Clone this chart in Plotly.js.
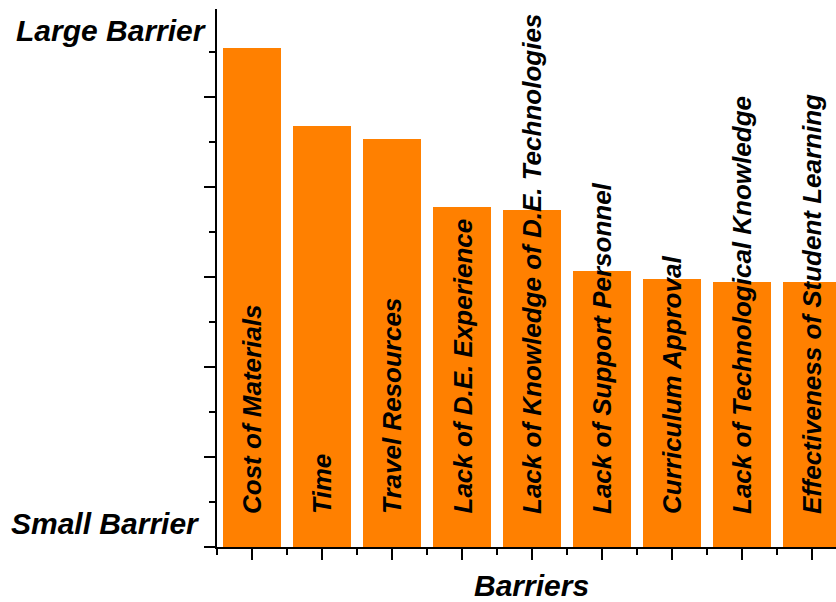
<!DOCTYPE html>
<html>
<head>
<meta charset="utf-8">
<script src="https://cdn.plot.ly/plotly-3.0.1.min.js"></script>
<style>html,body{margin:0;padding:0;overflow:hidden;background:#fff;}</style>
</head>
<body>
<div id="chart" style="width:836px;height:602px;"></div>
<script>
const categories = [
  "Cost of Materials",
  "Time",
  "Travel Resources",
  "Lack of D.E. Experience",
  "Lack of Knowledge of D.E. Technologies",
  "Lack of Support Personnel",
  "Curriculum Approval",
  "Lack of Technological Knowledge",
  "Effectiveness of Student Learning"
];
const barrierValues = [11.09, 9.36, 9.07, 7.56, 7.49, 6.14, 5.95, 5.88, 5.88];
const yLabelTop = "Large Barrier";
const yLabelBottom = "Small Barrier";
const xTitle = "Barriers";

const xs = categories.map((_, i) => i);
const FONT = "Liberation Sans, Arial, sans-serif";
const bigFont = {family: FONT, size: 30, color: "#000", weight: "bold", style: "italic"};
const barFont = {family: FONT, size: 26, color: "#000", weight: "bold", style: "italic"};

const trace = {
  type: "bar",
  x: xs,
  y: barrierValues,
  width: 0.83,
  marker: {color: "#FF8000", line: {width: 0}},
  hoverinfo: "skip"
};

const annotations = categories.map((c, i) => ({
  x: i, y: 0, xref: "x", yref: "y",
  text: c, showarrow: false, textangle: -90,
  xanchor: "center", yanchor: "bottom", yshift: 31,
  font: barFont
}));
annotations.push({
  x: 0, y: 1, xref: "paper", yref: "paper",
  text: yLabelTop, showarrow: false,
  xanchor: "right", yanchor: "middle", xshift: -8, yshift: -21,
  font: bigFont
});
annotations.push({
  x: 0, y: 0, xref: "paper", yref: "paper",
  text: yLabelBottom, showarrow: false,
  xanchor: "right", yanchor: "middle", xshift: -15, yshift: 24,
  font: bigFont
});
annotations.push({
  x: 0.508, y: 0, xref: "paper", yref: "paper",
  text: xTitle, showarrow: false,
  xanchor: "center", yanchor: "middle", yshift: -38,
  font: bigFont
});

const layout = {
  width: 836, height: 602,
  margin: {l: 217, r: 0, t: 9, b: 55, pad: 0},
  paper_bgcolor: "#fff", plot_bgcolor: "#fff",
  showlegend: false,
  bargap: 0,
  xaxis: {
    range: [-0.5, 8.343],
    tickmode: "array", tickvals: xs,
    showticklabels: false,
    ticks: "outside", ticklen: 11, tickwidth: 2, tickcolor: "#000",
    minor: {ticks: "outside", ticklen: 6, tickwidth: 2, tickcolor: "#000", tick0: 0.5, dtick: 1, showgrid: false},
    showline: true, linecolor: "#000", linewidth: 2,
    showgrid: false, zeroline: false, fixedrange: true
  },
  yaxis: {
    range: [0, 11.95],
    tick0: 0, dtick: 2,
    showticklabels: false,
    ticks: "outside", ticklen: 11, tickwidth: 2, tickcolor: "#000",
    minor: {ticks: "outside", ticklen: 6, tickwidth: 2, tickcolor: "#000", dtick: 1, showgrid: false},
    showline: true, linecolor: "#000", linewidth: 2,
    showgrid: false, zeroline: false, fixedrange: true
  },
  annotations: annotations
};

Plotly.newPlot("chart", [trace], layout, {displayModeBar: false, staticPlot: true});
</script>
</body>
</html>
